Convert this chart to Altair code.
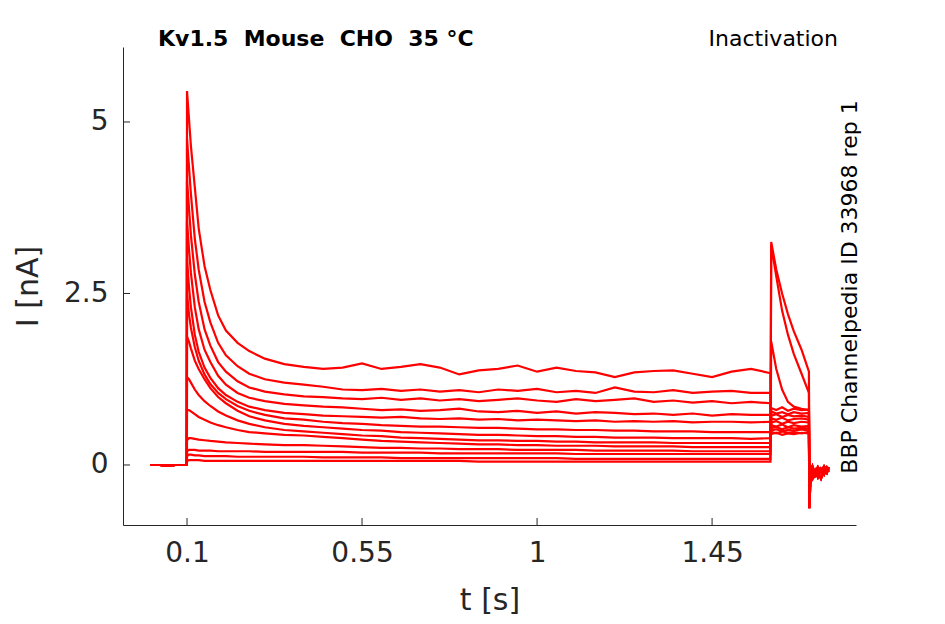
import altair as alt
import pandas as pd

# ---- sample times (s) ----
t_pre = [0.005, 0.03, 0.05, 0.07, 0.0995]
i_pre = [0.0, 0.0, -0.01, 0.0, 0.0]

t_pulse = [0.1, 0.105, 0.11, 0.12, 0.13, 0.145, 0.16, 0.18, 0.2, 0.23, 0.26, 0.3, 0.35, 0.4]
t_plateau = [0.45, 0.5, 0.55, 0.6, 0.65, 0.7, 0.75, 0.8, 0.85, 0.9, 0.95, 1.0,
             1.05, 1.1, 1.15, 1.2, 1.25, 1.3, 1.35, 1.4, 1.45, 1.5, 1.55, 1.6]
t_tail = [1.602, 1.615, 1.63, 1.645, 1.66, 1.68, 1.699]
t_post = [1.7, 1.703, 1.708, 1.715, 1.722, 1.73, 1.738, 1.745, 1.75]

# ---- currents (nA), one row per sweep ----
pulse_vals = [
    [5.45, 5.05, 4.65, 4.05, 3.45, 2.9, 2.55, 2.18, 1.96, 1.78, 1.66, 1.55, 1.47, 1.43],
    [4.75, 4.35, 3.95, 3.3, 2.85, 2.38, 2.08, 1.78, 1.6, 1.44, 1.33, 1.25, 1.2, 1.17],
    [4.15, 3.75, 3.35, 2.78, 2.38, 1.98, 1.74, 1.5, 1.36, 1.22, 1.13, 1.07, 1.03, 1.0],
    [3.55, 3.15, 2.8, 2.3, 1.98, 1.68, 1.5, 1.3, 1.17, 1.05, 0.98, 0.93, 0.89, 0.87],
    [3.0, 2.6, 2.3, 1.9, 1.65, 1.42, 1.27, 1.12, 1.02, 0.92, 0.85, 0.8, 0.76, 0.74],
    [2.5, 2.2, 2.0, 1.72, 1.52, 1.32, 1.18, 1.05, 0.96, 0.86, 0.79, 0.73, 0.68, 0.66],
    [1.87, 1.8, 1.7, 1.52, 1.4, 1.25, 1.12, 0.99, 0.9, 0.79, 0.71, 0.65, 0.6, 0.57],
    [1.28, 1.25, 1.2, 1.1, 1.02, 0.93, 0.86, 0.78, 0.72, 0.65, 0.6, 0.55, 0.51, 0.49],
    [0.8, 0.8, 0.78, 0.74, 0.7, 0.66, 0.62, 0.58, 0.55, 0.51, 0.48, 0.46, 0.44, 0.43],
    [0.36, 0.39, 0.39, 0.38, 0.37, 0.36, 0.35, 0.34, 0.33, 0.32, 0.31, 0.3, 0.29, 0.29],
    [0.2, 0.22, 0.22, 0.22, 0.21, 0.21, 0.21, 0.2, 0.2, 0.2, 0.2, 0.19, 0.19, 0.19],
    [0.13, 0.15, 0.15, 0.14, 0.14, 0.13, 0.13, 0.13, 0.13, 0.12, 0.12, 0.12, 0.12, 0.12],
    [0.06, 0.07, 0.07, 0.07, 0.07, 0.06, 0.06, 0.06, 0.06, 0.06, 0.06, 0.06, 0.06, 0.06],
]

plateau_vals = [
    [1.40, 1.42, 1.48, 1.40, 1.43, 1.47, 1.42, 1.32, 1.38, 1.40, 1.45, 1.36,
     1.42, 1.37, 1.35, 1.28, 1.35, 1.37, 1.38, 1.33, 1.28, 1.36, 1.40, 1.34],
    [1.14, 1.10, 1.09, 1.11, 1.08, 1.10, 1.07, 1.09, 1.06, 1.10, 1.08, 1.11,
     1.06, 1.08, 1.05, 1.13, 1.07, 1.06, 1.09, 1.05, 1.07, 1.08, 1.05, 1.05],
    [0.99, 0.97, 0.96, 0.98, 0.95, 0.97, 0.94, 0.96, 0.93, 0.95, 0.97, 0.94,
     0.92, 0.96, 0.93, 0.95, 0.97, 0.92, 0.94, 0.91, 0.93, 0.90, 0.92, 0.90],
    [0.85, 0.84, 0.82, 0.80, 0.81, 0.79, 0.80, 0.82, 0.78, 0.77, 0.79, 0.76,
     0.78, 0.75, 0.77, 0.76, 0.74, 0.75, 0.73, 0.75, 0.72, 0.74, 0.73, 0.73],
    [0.72, 0.71, 0.70, 0.69, 0.70, 0.68, 0.67, 0.68, 0.66, 0.67, 0.65, 0.66,
     0.65, 0.64, 0.65, 0.63, 0.64, 0.63, 0.64, 0.62, 0.63, 0.63, 0.62, 0.63],
    [0.63, 0.61, 0.60, 0.58, 0.57, 0.56, 0.56, 0.55, 0.54, 0.54, 0.53, 0.52,
     0.52, 0.51, 0.51, 0.50, 0.50, 0.49, 0.49, 0.49, 0.48, 0.48, 0.48, 0.48],
    [0.55, 0.53, 0.51, 0.50, 0.48, 0.47, 0.46, 0.45, 0.44, 0.44, 0.43, 0.42,
     0.42, 0.41, 0.41, 0.40, 0.40, 0.40, 0.39, 0.39, 0.39, 0.39, 0.38, 0.39],
    [0.47, 0.45, 0.43, 0.42, 0.40, 0.39, 0.38, 0.37, 0.36, 0.36, 0.35, 0.35,
     0.34, 0.34, 0.33, 0.33, 0.33, 0.33, 0.32, 0.32, 0.32, 0.32, 0.32, 0.32],
    [0.41, 0.39, 0.37, 0.35, 0.34, 0.33, 0.32, 0.31, 0.30, 0.30, 0.29, 0.29,
     0.28, 0.28, 0.28, 0.27, 0.27, 0.27, 0.27, 0.26, 0.26, 0.26, 0.26, 0.26],
    [0.28, 0.27, 0.26, 0.25, 0.25, 0.24, 0.24, 0.23, 0.23, 0.23, 0.22, 0.22,
     0.22, 0.22, 0.21, 0.21, 0.21, 0.21, 0.21, 0.20, 0.20, 0.20, 0.20, 0.20],
    [0.19, 0.19, 0.18, 0.18, 0.18, 0.18, 0.17, 0.17, 0.17, 0.17, 0.17, 0.17,
     0.17, 0.16, 0.16, 0.16, 0.16, 0.16, 0.16, 0.16, 0.16, 0.16, 0.16, 0.16],
    [0.11, 0.11, 0.11, 0.11, 0.10, 0.10, 0.10, 0.10, 0.10, 0.10, 0.10, 0.10,
     0.10, 0.09, 0.09, 0.09, 0.09, 0.09, 0.09, 0.09, 0.09, 0.09, 0.09, 0.09],
    [0.06, 0.06, 0.06, 0.06, 0.06, 0.06, 0.06, 0.06, 0.05, 0.05, 0.05, 0.05,
     0.05, 0.05, 0.05, 0.05, 0.05, 0.05, 0.05, 0.05, 0.05, 0.05, 0.05, 0.05],
]

tail_vals = [
    [0.45, 0.47, 0.44, 0.46, 0.45, 0.47, 0.46],
    [0.48, 0.46, 0.49, 0.47, 0.48, 0.46, 0.48],
    [0.50, 0.52, 0.49, 0.51, 0.50, 0.52, 0.50],
    [0.54, 0.55, 0.52, 0.55, 0.53, 0.54, 0.53],
    [0.58, 0.56, 0.59, 0.55, 0.58, 0.56, 0.57],
    [0.62, 0.64, 0.60, 0.63, 0.61, 0.63, 0.62],
    [0.68, 0.66, 0.69, 0.65, 0.67, 0.68, 0.66],
    [0.72, 0.74, 0.70, 0.73, 0.71, 0.72, 0.70],
    [0.78, 0.75, 0.77, 0.74, 0.77, 0.75, 0.76],
    [0.83, 0.80, 0.84, 0.79, 0.82, 0.80, 0.81],
    [1.80, 1.40, 1.10, 0.92, 0.85, 0.82, 0.80],
    [3.20, 2.75, 2.25, 1.90, 1.62, 1.33, 1.05],
    [3.25, 2.85, 2.50, 2.20, 1.95, 1.68, 1.36],
]

post_vals = [
    [-0.63, -0.20, -0.05, -0.12, -0.03, -0.10, -0.02, -0.08, -0.05],
    [-0.50, -0.15, -0.20, -0.08, -0.18, -0.06, -0.14, -0.04, -0.10],
    [-0.45, -0.10, -0.02, -0.16, -0.10, -0.20, -0.08, -0.12, -0.03],
]
post_pick = [0, 1, 2, 0, 1, 2, 0, 1, 2, 0, 1, 2, 0]

x_ticks = [0.1, 0.55, 1, 1.45]
y_ticks = [0, 2.5, 5]

# ---- long table ----
t_all = t_pre + t_pulse + t_plateau + t_tail + t_post
rows = []
for k in range(len(pulse_vals)):
    i_all = i_pre + pulse_vals[k] + plateau_vals[k] + tail_vals[k] + post_vals[post_pick[k]]
    assert len(i_all) == len(t_all), k
    for n, (t, i) in enumerate(zip(t_all, i_all)):
        rows.append({"sweep": k, "n": n, "t": t, "I": i})
df = pd.DataFrame(rows)

W, H = 733, 478
ink = "#262626"
font = "DejaVu Sans"
nb = "\u00a0\u00a0"  # keep the double gaps of the header

x_scale = alt.Scale(domain=[-0.0646, 1.82], nice=False, zero=False)
y_scale = alt.Scale(domain=[-0.875, 6.093], nice=False, zero=False)

traces = alt.Chart(df).mark_line(color="#ff0000", strokeWidth=2.2).encode(
    x=alt.X("t:Q", scale=x_scale, title="t [s]",
            axis=alt.Axis(values=x_ticks, labelExpr="toString(datum.value)",
                          ticks=False, grid=False, labelPadding=14, titlePadding=18)),
    y=alt.Y("I:Q", scale=y_scale, title="I [nA]",
            axis=alt.Axis(values=y_ticks, labelExpr="toString(datum.value)",
                          ticks=False, grid=False, labelPadding=15, titlePadding=20)),
    detail="sweep:N",
    order="n:Q",
)

# inward tick marks, as in the original
xt = alt.Chart(pd.DataFrame({"v": x_ticks})).mark_rule(color=ink, strokeWidth=1).encode(
    x=alt.X("v:Q", scale=x_scale), y=alt.value(H), y2=alt.value(H - 7)
)
yt = alt.Chart(pd.DataFrame({"v": y_ticks})).mark_rule(color=ink, strokeWidth=1).encode(
    y=alt.Y("v:Q", scale=y_scale), x=alt.value(0), x2=alt.value(7)
)

one = pd.DataFrame({"a": [0]})
head = alt.Chart(one).mark_text(
    text=f"Kv1.5{nb}Mouse{nb}CHO{nb}35 °C", font=font, fontSize=22, fontWeight="bold",
    color="black", align="left", baseline="middle"
).encode(x=alt.value(35), y=alt.value(-8))
kind = alt.Chart(one).mark_text(
    text="Inactivation", font=font, fontSize=22, color="black",
    align="right", baseline="middle"
).encode(x=alt.value(715), y=alt.value(-8))
side = alt.Chart(one).mark_text(
    text="BBP Channelpedia ID 33968 rep 1", font=font, fontSize=22, color="black",
    angle=270, align="center", baseline="middle"
).encode(x=alt.value(727), y=alt.value(H / 2 + 1))

chart = alt.layer(traces, xt, yt, head, kind, side).properties(
    width=W, height=H,
    autosize=alt.AutoSizeParams(type="none"),
    padding={"left": 115, "top": 39, "right": 80, "bottom": 91},
).configure_view(stroke=None).configure_axis(
    labelFont=font, titleFont=font, labelFontSize=28, titleFontSize=30,
    labelColor=ink, titleColor=ink, domainColor=ink, domainWidth=1,
    titleFontWeight="normal",
)

chart.save("out.html", embed_options={"renderer": "svg", "actions": False})
